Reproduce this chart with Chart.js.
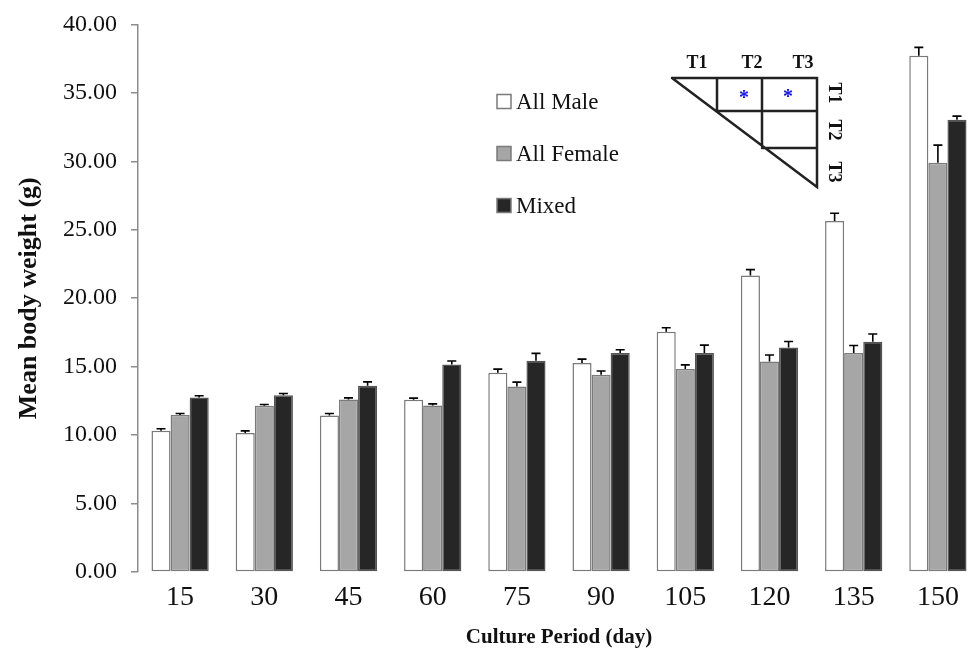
<!DOCTYPE html>
<html>
<head>
<meta charset="utf-8">
<script src="https://cdn.jsdelivr.net/npm/chart.js@4.4.1/dist/chart.umd.min.js"></script>
<style>
  html, body { margin: 0; padding: 0; background: #fff; overflow: hidden; width: 968px; height: 654px; }
  #wrap { position: relative; top: -4px; width: 982px; height: 660px; }
</style>
</head>
<body>
<div id="wrap"><canvas id="c" width="982" height="660"></canvas></div>
<script>
// ---- data ----
const categories = ['15', '30', '45', '60', '75', '90', '105', '120', '135', '150'];
const seriesNames = ['All Male', 'All Female', 'Mixed'];
const allMale   = [10.31, 10.16, 11.43, 12.58, 14.55, 15.26, 17.55, 21.65, 25.64, 37.71];
const allFemale = [11.46, 12.14, 12.60, 12.16, 13.55, 14.41, 14.82, 15.38, 15.99, 29.89];
const mixed     = [12.75, 12.92, 13.60, 15.16, 15.43, 15.99, 15.99, 16.40, 16.82, 33.03];
const allMaleErr   = [0.15, 0.15, 0.15, 0.12, 0.27, 0.29, 0.29, 0.44, 0.56, 0.61];
const allFemaleErr = [0.12, 0.10, 0.12, 0.12, 0.32, 0.27, 0.31, 0.47, 0.56, 1.29];
const mixedErr     = [0.12, 0.12, 0.29, 0.25, 0.54, 0.24, 0.58, 0.44, 0.56, 0.27];
const yTicks = [0, 5, 10, 15, 20, 25, 30, 35, 40];
const insetCols = ['T1', 'T2', 'T3'];
const insetRows = ['T1', 'T2', 'T3'];

const SERIF = '"Liberation Serif", "Times New Roman", serif';
const SHIFT = 4; // canvas is shifted up by this many px

// error bars drawn from the library's scales and bar elements
const errorBarPlugin = {
  id: 'errorBars',
  afterDatasetsDraw(chart) {
    const ctx = chart.ctx;
    const yScale = chart.scales.y;
    ctx.save();
    ctx.strokeStyle = '#000';
    ctx.lineWidth = 1.6;
    chart.data.datasets.forEach((ds, di) => {
      const meta = chart.getDatasetMeta(di);
      meta.data.forEach((bar, i) => {
        const v = ds.data[i];
        const e = ds.errors[i];
        const yTop = yScale.getPixelForValue(v + e);
        const x = bar.x;
        ctx.beginPath();
        ctx.moveTo(x, bar.y);
        ctx.lineTo(x, yTop);
        ctx.moveTo(x - 4.5, yTop);
        ctx.lineTo(x + 4.5, yTop);
        ctx.stroke();
      });
    });
    ctx.restore();
  }
};

// custom legend (vertical, widely spaced)
const legendPlugin = {
  id: 'customLegend',
  afterDraw(chart) {
    const ctx = chart.ctx;
    ctx.save();
    ctx.translate(0, SHIFT);
    const x0 = 497, y0 = 101.5, gap = 52;
    chart.data.datasets.forEach((ds, i) => {
      const cy = y0 + i * gap;
      ctx.fillStyle = ds.backgroundColor;
      ctx.fillRect(x0, cy - 7, 14, 14);
      ctx.strokeStyle = '#7a7a7a';
      ctx.lineWidth = 1.5;
      ctx.strokeRect(x0, cy - 7, 14, 14);
      ctx.fillStyle = '#111';
      ctx.font = '23px ' + SERIF;
      ctx.textBaseline = 'middle';
      ctx.textAlign = 'left';
      ctx.fillText(ds.label, x0 + 19, cy + 1);
    });
    ctx.restore();
  }
};

// significance inset (triangular matrix)
const insetPlugin = {
  id: 'inset',
  afterDraw(chart) {
    const ctx = chart.ctx;
    ctx.save();
    ctx.translate(0, SHIFT);
    const L = 672, T = 78, R = 817, B = 187;
    const c1 = 717, c2 = 762;
    const r1 = 111, r2 = 148;
    ctx.strokeStyle = '#222';
    ctx.lineWidth = 2.5;
    ctx.lineCap = 'round';
    ctx.beginPath();
    ctx.moveTo(L, T); ctx.lineTo(R, T); ctx.lineTo(R, B); ctx.lineTo(L, T);
    ctx.moveTo(c1, T); ctx.lineTo(c1, r1);
    ctx.moveTo(c2, T); ctx.lineTo(c2, r2 - 2);
    ctx.moveTo(c1, r1); ctx.lineTo(R, r1);
    ctx.moveTo(c2, r2); ctx.lineTo(R, r2);
    ctx.stroke();

    ctx.fillStyle = '#111';
    ctx.font = 'bold 18px ' + SERIF;
    ctx.textAlign = 'center';
    ctx.textBaseline = 'middle';
    const colX = [697, 752, 803];
    insetCols.forEach((t, i) => ctx.fillText(t, colX[i], 63));
    const rowY = [93, 130, 172];
    insetRows.forEach((t, i) => {
      ctx.save();
      ctx.translate(834, rowY[i]);
      ctx.rotate(Math.PI / 2);
      ctx.fillText(t, 0, 0);
      ctx.restore();
    });
    ctx.fillStyle = '#1010ee';
    ctx.font = 'bold 20px ' + SERIF;
    ctx.fillText('*', 744, 99);
    ctx.fillText('*', 788, 98);
    ctx.restore();
  }
};

const barBorder = '#7a7a7a';
const ctxEl = document.getElementById('c');
new Chart(ctxEl, {
  type: 'bar',
  data: {
    labels: categories,
    datasets: [
      { label: seriesNames[0], data: allMale, errors: allMaleErr, backgroundColor: '#ffffff', borderColor: barBorder, borderWidth: 1.5, borderSkipped: false },
      { label: seriesNames[1], data: allFemale, errors: allFemaleErr, backgroundColor: '#a6a6a6', borderColor: barBorder, borderWidth: 1.5, borderSkipped: false },
      { label: seriesNames[2], data: mixed, errors: mixedErr, backgroundColor: '#262626', borderColor: '#555555', borderWidth: 1.5, borderSkipped: false }
    ]
  },
  options: {
    responsive: false,
    animation: false,
    devicePixelRatio: 1,
    categoryPercentage: 0.68,
    barPercentage: 1.0,
    layout: { padding: { top: 20, right: 2, left: 0, bottom: 0 } },
    plugins: {
      legend: { display: false },
      tooltip: { enabled: false }
    },
    scales: {
      x: {
        grid: { display: false, drawTicks: false },
        border: { display: false },
        ticks: { color: '#111', font: { family: SERIF, size: 28 }, padding: 9, maxRotation: 0, autoSkip: false },
        title: { display: true, text: 'Culture Period (day)', color: '#111', font: { family: SERIF, size: 21, weight: 'bold' }, padding: { top: 0, bottom: 6 } },
        afterFit(scale) { scale.height = 84; }
      },
      y: {
        min: 0, max: 40,
        afterBuildTicks(scale) { scale.ticks = yTicks.map(v => ({ value: v })); },
        grid: { drawOnChartArea: false, drawTicks: true, tickLength: 7, color: '#8c8c8c', lineWidth: 1.5 },
        border: { display: true, color: '#8c8c8c', width: 1.5 },
        ticks: { color: '#111', font: { family: SERIF, size: 24 }, padding: 14, callback: v => Number(v).toFixed(2) },
        title: { display: true, text: 'Mean body weight (g)', color: '#111', font: { family: SERIF, size: 26, weight: 'bold' }, padding: { top: 14, bottom: 0 } },
        afterFit(scale) { scale.width = 138; }
      }
    }
  },
  plugins: [errorBarPlugin, legendPlugin, insetPlugin]
});
</script>
</body>
</html>
